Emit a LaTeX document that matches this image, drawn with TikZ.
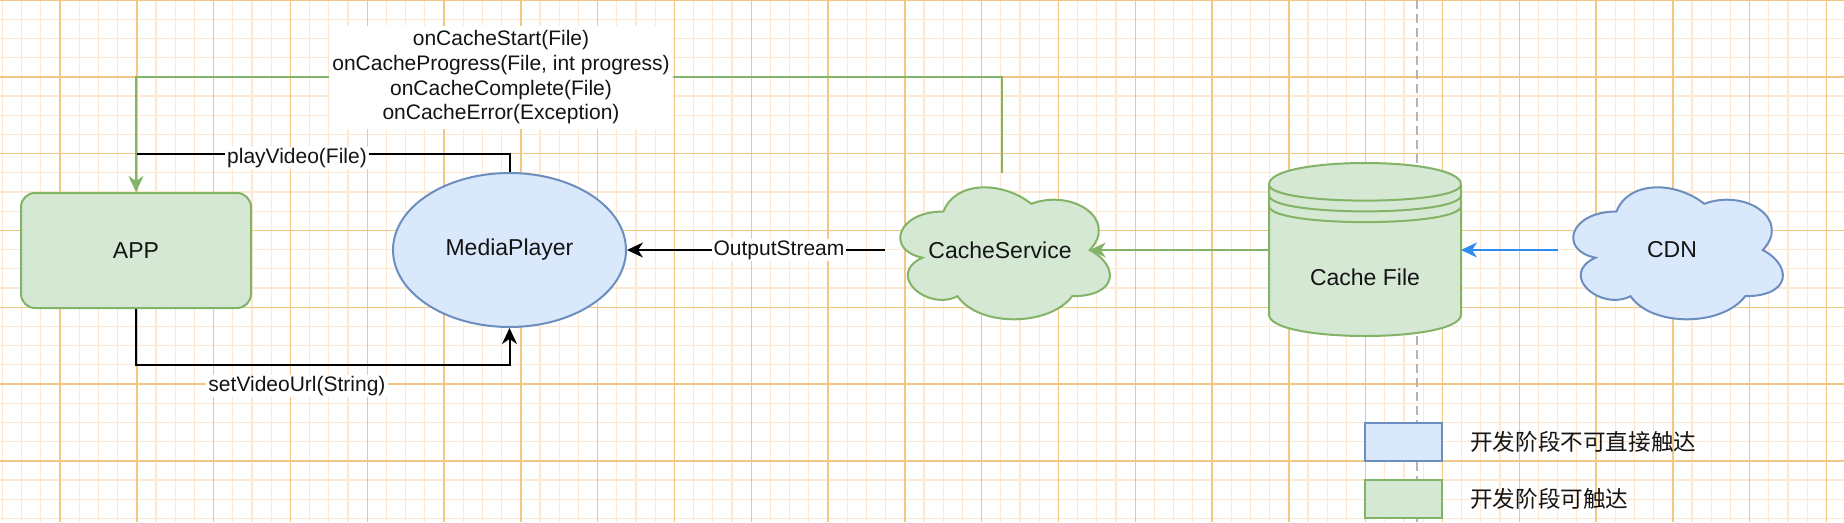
\documentclass[tikz,border=0pt]{standalone}
\usepackage{fontspec}
\setmainfont{Liberation Sans}
\newfontfamily\cjk{Noto Sans CJK SC}
\usetikzlibrary{arrows.meta,shapes.geometric}
\definecolor{gfill}{HTML}{D5E8D4}
\definecolor{gline}{HTML}{82B366}
\definecolor{bfill}{HTML}{DAE8FC}
\definecolor{bline}{HTML}{6C8EBF}
\definecolor{gridmaj}{RGB}{244,198,134}
\definecolor{gridmin}{RGB}{253,232,210}
\definecolor{arrowblue}{RGB}{45,140,240}
\definecolor{dashgray}{RGB}{180,180,180}
\definecolor{txt}{RGB}{20,20,20}

% draw.io style cloud: x0 y0 w h style
\newcommand\mxcloud[5]{%
 \draw[#5] ({#1+0.25*#3},{#2+0.25*#4})
  .. controls ({#1+0.05*#3},{#2+0.25*#4}) and ({#1},{#2+0.5*#4}) .. ({#1+0.16*#3},{#2+0.55*#4})
  .. controls ({#1},{#2+0.66*#4}) and ({#1+0.18*#3},{#2+0.9*#4}) .. ({#1+0.31*#3},{#2+0.8*#4})
  .. controls ({#1+0.4*#3},{#2+#4}) and ({#1+0.7*#3},{#2+#4}) .. ({#1+0.8*#3},{#2+0.8*#4})
  .. controls ({#1+#3},{#2+0.8*#4}) and ({#1+#3},{#2+0.6*#4}) .. ({#1+0.875*#3},{#2+0.5*#4})
  .. controls ({#1+#3},{#2+0.3*#4}) and ({#1+0.8*#3},{#2+0.1*#4}) .. ({#1+0.625*#3},{#2+0.2*#4})
  .. controls ({#1+0.5*#3},{#2+0.05*#4}) and ({#1+0.3*#3},{#2+0.05*#4}) .. ({#1+0.25*#3},{#2+0.25*#4}) -- cycle;}

\begin{document}
\begin{tikzpicture}[x=1pt,y=-1pt,
  nodefont/.style={font=\fontsize{23}{27}\selectfont, text=txt},
  lbl/.style={font=\fontsize{21}{24.7}\selectfont, text=txt, fill=white, inner xsep=2pt, inner ysep=1pt},
  conn/.style={line width=2pt},
  tip/.style={-{Stealth[length=16pt,width=15pt,inset=5pt]}},
  gshape/.style={draw=gline, fill=gfill, line width=2pt},
  bshape/.style={draw=bline, fill=bfill, line width=2pt},
  hidden/.style={inner sep=0pt, outer sep=0pt}]
\useasboundingbox (0,0) rectangle (1844,522);
\fill[white] (0,0) rectangle (1844,522);
% grid
\begin{scope}
\clip (0,0) rectangle (1844,522);
\foreach \i in {-3,...,93} \draw[gridmin, line width=1.2pt] ({60+19.2*\i},0) -- ({60+19.2*\i},522);
\foreach \j in {0,...,27} \draw[gridmin, line width=1.2pt] (0,{19.2*\j}) -- (1844,{19.2*\j});
\foreach \i in {0,...,23} \draw[gridmaj, line width=1.4pt] ({60+76.8*\i},0) -- ({60+76.8*\i},522);
\foreach \j in {0,...,6} \draw[gridmaj, line width=1.4pt] (0,{76.8*\j}) -- (1844,{76.8*\j});
\end{scope}
% dashed separator
\coordinate (sepTop) at (1417,0);
\coordinate (sepBot) at (1417,522);
\draw[dashgray, line width=2pt, dash pattern=on 9pt off 5pt] (sepTop) -- (sepBot);

% APP
\node[gshape, rounded corners=14pt, minimum width=230pt, minimum height=115pt, nodefont] (app) at (136,250.5) {APP};
% MediaPlayer
\node[bshape, ellipse, inner sep=0pt, minimum width=233pt, minimum height=154pt, nodefont] (mp) at (509.5,250) {MediaPlayer};
% CacheService cloud (bbox 885..1119, 173..327)
\mxcloud{885}{173}{234}{154}{gshape}
\node[nodefont] (cs) at (1000,250) {CacheService};
\coordinate (csTop) at (1002,173);
\coordinate (csLeft) at (885,250);
\coordinate (csRight) at (1089.75,250);
% CDN cloud
\mxcloud{1558}{173}{234}{154}{bshape}
\node[nodefont] (cdn) at (1672,250) {CDN};
\coordinate (cdnLeft) at (1558,250);
% Cache File cylinder: x0=1269 y0=163 w=192 h=173 dy=21.5
\filldraw[gshape] (1269,184.5) .. controls (1269,155.83) and (1461,155.83) .. (1461,184.5)
  -- (1461,314.5) .. controls (1461,343.17) and (1269,343.17) .. (1269,314.5) -- cycle;
\draw[gline, line width=2pt] (1269,184.5) .. controls (1269,206) and (1461,206) .. (1461,184.5);
\draw[gline, line width=2pt] (1269,195.25) .. controls (1269,216.75) and (1461,216.75) .. (1461,195.25);
\draw[gline, line width=2pt] (1269,206) .. controls (1269,227.5) and (1461,227.5) .. (1461,206);
\node[nodefont] (cf) at (1365,277) {Cache File};
\coordinate (cfLeft) at (1269,250);
\coordinate (cfRight) at (1461,250);

% connectors
\coordinate (pvJoin) at (136,154);
\draw[conn, black] (mp.north) |- (pvJoin);
\node[lbl] (pvLbl) at (297,158) {playVideo(File)};

\coordinate (cbCorner) at (136,77);
\draw[conn, gline, tip] (csTop) |- (cbCorner) -- (app.north);
\node[lbl, align=center, inner xsep=3pt, inner ysep=5pt] (cbLbl) at (501,77.5)
  {onCacheStart(File)\\onCacheProgress(File, int progress)\\onCacheComplete(File)\\onCacheError(Exception)};

\coordinate (svCorner) at (136,365);
\draw[conn, black, tip] (app.south) -- (svCorner) -| (mp.south);
\node[lbl] (svLbl) at (297,386) {setVideoUrl(String)};

\draw[conn, black, tip] (csLeft) -- (mp.east);
\node[lbl] (osLbl) at (779,250) {OutputStream};

\draw[conn, gline, tip] (cfLeft) -- (csRight);
\draw[conn, arrowblue, tip] (cdnLeft) -- (cfRight);

% legend
\node[bshape, minimum width=77pt, minimum height=38pt, inner sep=0pt] (legB) at (1403.5,442) {};
\node[gshape, minimum width=77pt, minimum height=38pt, inner sep=0pt] (legG) at (1403.5,499) {};
\node[anchor=west, font=\cjk\fontsize{22.6}{26}\selectfont, text=txt, inner sep=0pt] (legBT) at (1470,442) {开发阶段不可直接触达};
\node[anchor=west, font=\cjk\fontsize{22.6}{26}\selectfont, text=txt, inner sep=0pt] (legGT) at (1470,499) {开发阶段可触达};
\end{tikzpicture}
\end{document}
